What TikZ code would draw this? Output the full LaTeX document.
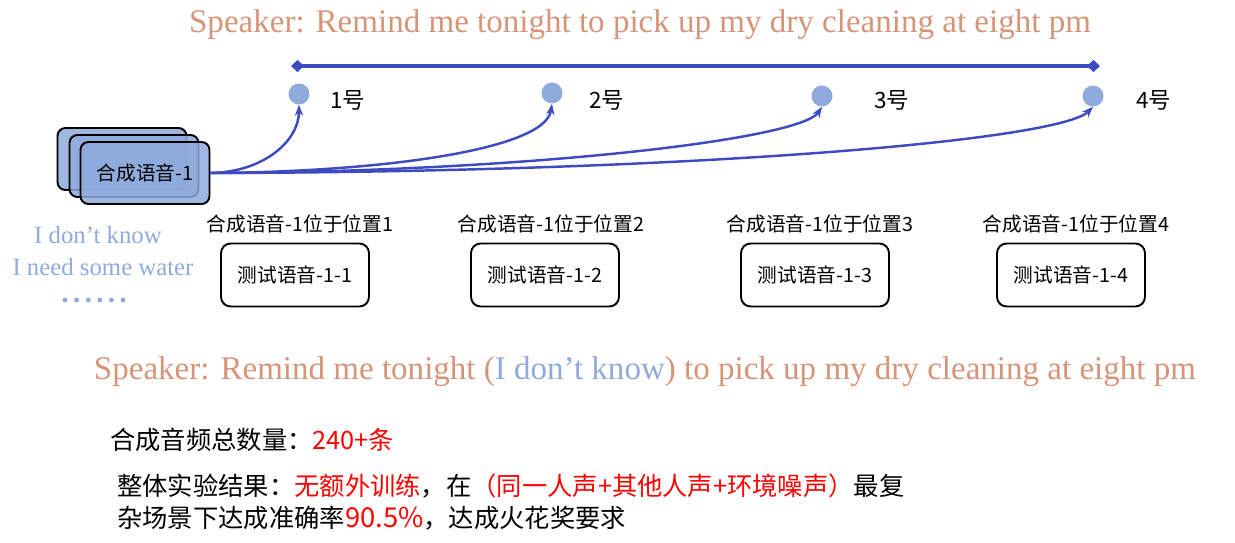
\documentclass[tikz,border=0pt]{standalone}
\usepackage{fontspec}
\setmainfont{Liberation Serif}
\newfontfamily\cjk{Noto Sans CJK SC}
\usetikzlibrary{arrows.meta}
\definecolor{Salmon}{HTML}{D69478}
\definecolor{Sky}{HTML}{8FAADC}
\definecolor{Royal}{HTML}{3E4BC0}
\definecolor{Alert}{HTML}{FF0000}
\tikzset{
  speaker/.style={text=Salmon, font=\fontsize{18.8}{22}\selectfont},
  voicebox/.style={
    rounded corners=4.5pt, draw=black, line width=1.1pt, fill=Sky,
    fill opacity=0.85, text opacity=1,
    minimum width=2.58cm, minimum height=1.24cm
  },
  testbox/.style={
    rounded corners=5.5pt, draw=black, line width=1.1pt, fill=white,
    minimum width=2.96cm, minimum height=1.26cm,
    font=\cjk\fontsize{11.2}{13}\selectfont
  },
  slot/.style={circle, fill=Sky, minimum size=0.42cm, inner sep=0pt},
  slotlabel/.style={anchor=west, font=\cjk\fontsize{12.8}{15}\selectfont},
  poslabel/.style={font=\cjk\fontsize{11.2}{13}\selectfont},
  noise/.style={text=Sky, font=\fontsize{14.1}{17}\selectfont},
  note/.style={anchor=west, inner sep=0pt, font=\cjk\fontsize{14.4}{17}\selectfont},
  link/.style={-{Stealth[length=2.2mm]}, line width=1.4pt, draw=Royal},
  axis/.style={{Diamond[length=2.6mm,width=2.4mm]}-{Diamond[length=2.6mm,width=2.4mm]}, line width=2.3pt, draw=Royal}
}

\begin{document}
\begin{tikzpicture}[x=0.02cm,y=-0.02cm]
  \useasboundingbox (0,0) rectangle (1235,542);
  \node[speaker] (title) at (640,25) {Speaker: Remind me tonight to pick up my dry cleaning at eight pm};
  % position axis
  \coordinate (axisL) at (291,66);
  \coordinate (axisR) at (1100,66);
  \draw[axis] (axisL) -- (axisR);
  \node[slot] (p1) at (299,94) {};
  \node[slot] (p2) at (552,93) {};
  \node[slot] (p3) at (822,96) {};
  \node[slot] (p4) at (1093,96) {};
  \node[slotlabel] (l1) at (324,100) {1号};
  \node[slotlabel] (l2) at (583,100) {2号};
  \node[slotlabel] (l3) at (868,100) {3号};
  \node[slotlabel] (l4) at (1130,100) {4号};
  % stacked voice
  \node[voicebox] (back) at (122,159) {};
  \node[voicebox] (mid) at (134,166) {};
  \node[voicebox] (voice) at (145,173) {\cjk\fontsize{11.2}{13}\selectfont 合成语音-1};
  \draw[link] (voice.east) .. controls (265,172) and (299,140) .. (p1.south);
  \draw[link] (voice.east) .. controls (380,172) and (545,150) .. (p2.south);
  \draw[link] (voice.east) .. controls (520,172) and (800,140) .. (p3.south);
  \draw[link] (voice.east) .. controls (700,172) and (1060,140) .. (p4.south);
  % test cases
  \node[poslabel] (c1) at (300,224) {合成语音-1位于位置1};
  \node[poslabel] (c2) at (551,224) {合成语音-1位于位置2};
  \node[poslabel] (c3) at (820,224) {合成语音-1位于位置3};
  \node[poslabel] (c4) at (1076,224) {合成语音-1位于位置4};
  \node[testbox] (t1) at (295,275) {测试语音-1-1};
  \node[testbox] (t2) at (545,275) {测试语音-1-2};
  \node[testbox] (t3) at (815,275) {测试语音-1-3};
  \node[testbox] (t4) at (1071,275) {测试语音-1-4};
  % other voices
  \node[noise] (n1) at (98,235) {I don’t know};
  \node[noise] (n2) at (103,267) {I need some water};
  \foreach \i in {0,...,5}
    \fill[Sky] (65+11.6*\i,300) circle (2.4);
  \node[speaker] (example) at (645,372) {Speaker: Remind me tonight (\textcolor{Sky}{I don’t know}) to pick up my dry cleaning at eight pm};
  % summary
  \node[note] (count) at (110,440) {合成音频总数量：\textcolor{Alert}{240+条}};
  \node[note] (result) at (117,486) {整体实验结果：\textcolor{Alert}{无额外训练}，在\textcolor{Alert}{（同一人声+其他人声+环境噪声）}最复};
  \node[note] (result2) at (117,518) {杂场景下达成准确率\textcolor{Alert}{\fontsize{15.6}{18}\selectfont 90.5\%}，达成火花奖要求};
\end{tikzpicture}
\end{document}
